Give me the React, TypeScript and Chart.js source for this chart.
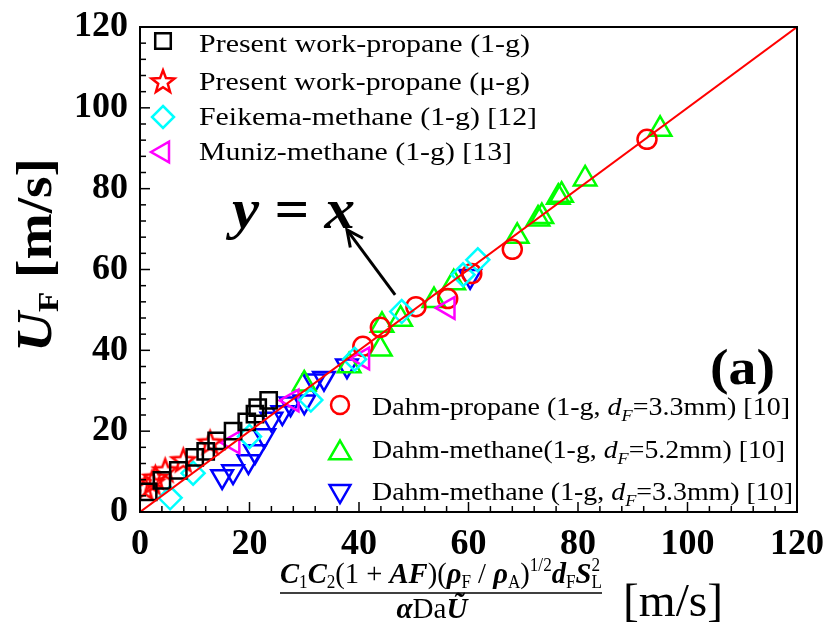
import React, { useEffect, useRef } from 'react';
import { Chart, registerables } from 'chart.js';

Chart.register(...registerables);

// ---------------- data ----------------
const presentX = [1.5, 4, 7, 10, 12, 14, 17, 19.5, 21, 21.5, 23.5];
const presentY = [5, 7.8, 10.3, 13.5, 15, 17.6, 20, 22.3, 24.2, 25.8, 27.6];

const microX = [0.9, 2.2, 2.8, 4.6, 7.9, 12.8];
const microY = [6, 7.4, 8.6, 10.4, 12.9, 17.3];

const feikemaX = [5.5, 9.7, 20, 31.2, 39.2, 47.8, 59, 61.7];
const feikemaY = [3.5, 9.6, 18.7, 27.7, 37.8, 49.6, 58.7, 62.4];

const munizX = [17, 27.8, 40.7, 56.3];
const munizY = [17.2, 27.6, 38, 50.5];

const dahmPropX = [40.7, 43.9, 50.4, 56.2, 60.6, 68, 92.6];
const dahmPropY = [41, 45.7, 50.8, 52.8, 59, 65, 92.2];

const dahmMeth52X = [30, 38.2, 43.9, 44.2, 47.6, 53.7, 57.3, 68.9, 72.7, 73.4, 76.4, 77, 81.3, 95];
const dahmMeth52Y = [31.7, 36.2, 40.3, 46.2, 47.7, 52.3, 56.7, 68.2, 72.5, 73.1, 77.9, 78.4, 82.4, 94.7];

const dahmMeth33X = [15, 17, 19.8, 21, 22.7, 24, 26, 27.5, 30, 31.8, 33.6, 37.8, 60.3];
const dahmMeth33Y = [8.8, 10, 12.5, 15, 18.9, 23, 24.6, 26.8, 27.3, 32.5, 33.1, 36.2, 58.3];

const refLineX = [0, 120];
const refLineY = [0, 120];

const xTickStep = 20;
const yTickStep = 20;
const axisMin = 0;
const axisMax = 120;

const arrowTail = { x: 46.6, y: 53.7 };
const arrowTip = { x: 37.8, y: 69.8 };

const legendTopLabels = [
  'Present work-propane (1-g)',
  'Present work-propane (\u03bc-g)',
  'Feikema-methane (1-g) [12]',
  'Muniz-methane (1-g) [13]',
];
const legendBottomLabels: [string, string][] = [
  ['Dahm-propane (1-g, ', '=3.3mm) [10]'],
  ['Dahm-methane(1-g, ', '=5.2mm) [10]'],
  ['Dahm-methane (1-g, ', '=3.3mm) [10]'],
];

// ---------------- helpers ----------------
const SERIF = "'Liberation Serif','Times New Roman',serif";
const f = (style: string, size: number) => `${style} ${size}px ${SERIF}`.trim();
const LW = 2.5;

const zip = (xs: number[], ys: number[]) => xs.map((x, i) => ({ x, y: ys[i] }));

function makeStar(color: string, r: number, lw: number) {
  const size = Math.ceil(2 * r + lw * 2 + 4);
  const c = document.createElement('canvas');
  c.width = size;
  c.height = size;
  const ctx = c.getContext('2d')!;
  drawStar(ctx, size / 2, size / 2, r, color, lw);
  return c;
}

function drawStar(ctx: CanvasRenderingContext2D, cx: number, cy: number, r: number, color: string, lw: number) {
  ctx.save();
  ctx.beginPath();
  const yOff = r * 0.1;
  for (let i = 0; i < 10; i++) {
    const a = -Math.PI / 2 + (i * Math.PI) / 5;
    const rr = i % 2 === 0 ? r : r * 0.42;
    ctx.lineTo(cx + rr * Math.cos(a), cy + yOff + rr * Math.sin(a));
  }
  ctx.closePath();
  ctx.strokeStyle = color;
  ctx.lineWidth = lw;
  ctx.lineJoin = 'miter';
  ctx.stroke();
  ctx.restore();
}

type Seg = { t: string; font: string; dy?: number; noAdv?: boolean };

function richWidth(ctx: CanvasRenderingContext2D, segs: Seg[]) {
  let w = 0;
  for (const s of segs) {
    ctx.font = s.font;
    if (!s.noAdv) w += ctx.measureText(s.t).width;
  }
  return w;
}

function drawRich(ctx: CanvasRenderingContext2D, segs: Seg[], x: number, y: number, targetW: number | null, align: 'left' | 'center' = 'left', color = '#000') {
  const nat = richWidth(ctx, segs);
  const sx = targetW ? targetW / nat : 1;
  const total = nat * sx;
  ctx.save();
  ctx.translate(align === 'center' ? x - total / 2 : x, y);
  ctx.scale(sx, 1);
  ctx.fillStyle = color;
  ctx.textAlign = 'left';
  ctx.textBaseline = 'alphabetic';
  let cx = 0;
  for (const s of segs) {
    ctx.font = s.font;
    ctx.fillText(s.t, cx, s.dy || 0);
    if (!s.noAdv) cx += ctx.measureText(s.t).width;
  }
  ctx.restore();
}

function drawMarker(ctx: CanvasRenderingContext2D, style: string, x: number, y: number, r: number, color: string) {
  if (style === 'star') {
    drawStar(ctx, x, y, r, color, LW);
    return;
  }
  ctx.save();
  ctx.strokeStyle = color;
  ctx.lineWidth = LW;
  ctx.beginPath();
  if (style === 'rect') {
    const s = Math.SQRT1_2 * r;
    ctx.rect(x - s, y - s, 2 * s, 2 * s);
  } else if (style === 'rectRot') {
    ctx.moveTo(x, y - r);
    ctx.lineTo(x + r, y);
    ctx.lineTo(x, y + r);
    ctx.lineTo(x - r, y);
    ctx.closePath();
  } else if (style === 'circle') {
    ctx.arc(x, y, r, 0, Math.PI * 2);
  } else {
    const rot = style === 'triL' ? -Math.PI / 2 : style === 'triD' ? Math.PI : 0;
    for (let i = 0; i < 3; i++) {
      const a = rot + (i * 2 * Math.PI) / 3;
      ctx.lineTo(x + Math.sin(a) * r, y - Math.cos(a) * r);
    }
    ctx.closePath();
  }
  ctx.stroke();
  ctx.restore();
}

const decorPlugin = {
  id: 'decor',
  afterDatasetsDraw(chart: any) {
    const ctx: CanvasRenderingContext2D = chart.ctx;
    const { left, right, top, bottom } = chart.chartArea;
    const xs = chart.scales.x;
    const ys = chart.scales.y;

    // frame
    ctx.save();
    ctx.strokeStyle = '#000';
    ctx.lineWidth = 2;
    ctx.strokeRect(left, top, right - left, bottom - top);

    // inward ticks (bottom & left)
    ctx.lineWidth = 1.5;
    for (let v = axisMin; v <= axisMax + 1e-9; v += 4) {
      const major = Math.abs(v % 20) < 1e-9;
      const len = major ? 10 : 6;
      const px = xs.getPixelForValue(v);
      ctx.beginPath();
      ctx.moveTo(px, bottom);
      ctx.lineTo(px, bottom - len);
      ctx.stroke();
      const py = ys.getPixelForValue(v);
      ctx.beginPath();
      ctx.moveTo(left, py);
      ctx.lineTo(left + len, py);
      ctx.stroke();
    }
    ctx.restore();

    // arrow
    const tx = xs.getPixelForValue(arrowTip.x);
    const ty = ys.getPixelForValue(arrowTip.y);
    const sx0 = xs.getPixelForValue(arrowTail.x);
    const sy0 = ys.getPixelForValue(arrowTail.y);
    ctx.save();
    ctx.strokeStyle = '#000';
    ctx.lineWidth = 3;
    ctx.beginPath();
    ctx.moveTo(sx0, sy0);
    ctx.lineTo(tx, ty);
    ctx.stroke();
    const ang = Math.atan2(ty - sy0, tx - sx0);
    const hl = 18;
    ctx.beginPath();
    ctx.moveTo(tx + hl * Math.cos(ang + Math.PI - 0.45), ty + hl * Math.sin(ang + Math.PI - 0.45));
    ctx.lineTo(tx, ty);
    ctx.lineTo(tx + hl * Math.cos(ang + Math.PI + 0.45), ty + hl * Math.sin(ang + Math.PI + 0.45));
    ctx.stroke();
    ctx.restore();

    // y = x label
    drawRich(ctx, [
      { t: 'y', font: f('italic bold', 56) },
      { t: ' = ', font: f('bold', 56) },
      { t: 'x', font: f('italic bold', 56) },
    ], 232, 228, 123);

    // (a)
    drawRich(ctx, [{ t: '(a)', font: f('bold', 50) }], 710, 384, 65);

    // top-left legend
    const topStyles = [
      { s: 'rect', c: '#000000', r: 11 },
      { s: 'star', c: '#ff0000', r: 12 },
      { s: 'rectRot', c: '#00ffff', r: 11 },
      { s: 'triL', c: '#ff00ff', r: 12 },
    ];
    const topSymY = [41, 81, 117, 152];
    const topBase = [52, 90, 125, 160];
    const topW = [331, 331, 338, 313];
    topStyles.forEach((st, i) => {
      drawMarker(ctx, st.s, 163, topSymY[i], st.r, st.c);
      drawRich(ctx, [{ t: legendTopLabels[i], font: f('', 26) }], 199, topBase[i], topW[i]);
    });

    // bottom-right legend
    const botStyles = [
      { s: 'circle', c: '#ff0000', r: 9 },
      { s: 'tri', c: '#00ff00', r: 12.5 },
      { s: 'triD', c: '#0000ff', r: 12 },
    ];
    const botSymY = [405, 453, 491];
    const botBase = [415, 458, 500];
    const botW = [418, 413, 421];
    botStyles.forEach((st, i) => {
      drawMarker(ctx, st.s, 340, botSymY[i], st.r, st.c);
      const lab = legendBottomLabels[i];
      drawRich(ctx, [
        { t: lab[0], font: f('', 26) },
        { t: 'd', font: f('italic', 26) },
        { t: 'F', font: f('italic', 17), dy: 6 },
        { t: lab[1], font: f('', 26) },
      ], 372, botBase[i], botW[i]);
    });

    // x-axis title (fraction)
    const B = 30, S = 18;
    drawRich(ctx, [
      { t: 'C', font: f('italic bold', B) },
      { t: '1', font: f('', S), dy: 5 },
      { t: 'C', font: f('italic bold', B) },
      { t: '2', font: f('', S), dy: 5 },
      { t: '(1 + ', font: f('', B) },
      { t: 'AF', font: f('italic bold', B) },
      { t: ')(', font: f('', B) },
      { t: '\u03c1', font: f('italic bold', B) },
      { t: 'F', font: f('', S), dy: 5 },
      { t: ' / ', font: f('', B) },
      { t: '\u03c1', font: f('italic bold', B) },
      { t: 'A', font: f('', S), dy: 5 },
      { t: ')', font: f('', B) },
      { t: '1/2', font: f('', S), dy: -12 },
      { t: 'd', font: f('italic bold', B) },
      { t: 'F', font: f('', S), dy: 5 },
      { t: 'S', font: f('italic bold', B) },
      { t: 'L', font: f('', S), dy: 5, noAdv: true },
      { t: '2', font: f('', S), dy: -12 },
    ], 280, 583, 320);
    ctx.save();
    ctx.strokeStyle = '#000';
    ctx.lineWidth = 1.5;
    ctx.beginPath();
    ctx.moveTo(280, 593);
    ctx.lineTo(602, 593);
    ctx.stroke();
    ctx.restore();
    drawRich(ctx, [
      { t: '\u03b1', font: f('italic bold', B) },
      { t: 'Da', font: f('', B) },
      { t: '\u0168', font: f('italic bold', B) },
    ], 432, 618, 71, 'center');
    drawRich(ctx, [{ t: '[m/s]', font: f('', 46) }], 623, 616, 100);

    // y-axis title (rotated)
    ctx.save();
    ctx.translate(51, 255);
    ctx.rotate(-Math.PI / 2);
    drawRich(ctx, [
      { t: 'U', font: f('italic bold', 50) },
      { t: 'F', font: f('bold', 30), dy: 7 },
      { t: ' [m/s]', font: f('bold', 50) },
    ], 0, 0, 194, 'center');
    ctx.restore();
  },
};

export default function App() {
  const ref = useRef<HTMLCanvasElement | null>(null);

  useEffect(() => {
    const canvas = ref.current!;
    const star = makeStar('#ff0000', 12, LW);
    const base = { showLine: false, backgroundColor: 'rgba(0,0,0,0)', borderWidth: LW, order: 1 };
    const chart = new Chart(canvas, {
      type: 'scatter',
      data: {
        datasets: [
          {
            label: 'y = x',
            data: zip(refLineX, refLineY),
            showLine: true,
            borderColor: '#ff0000',
            borderWidth: 2,
            pointRadius: 0,
            order: 0,
          },
          { ...base, label: 'Present work-propane (1-g)', data: zip(presentX, presentY), pointStyle: 'rect', pointRadius: 11.5, borderColor: '#000000' },
          { ...base, label: 'Present work-propane (\u03bc-g)', data: zip(microX, microY), pointStyle: star as any, pointRadius: 12, borderColor: '#ff0000' },
          { ...base, label: 'Feikema-methane (1-g) [12]', data: zip(feikemaX, feikemaY), pointStyle: 'rectRot', pointRadius: 11.5, borderColor: '#00ffff' },
          { ...base, label: 'Muniz-methane (1-g) [13]', data: zip(munizX, munizY), pointStyle: 'triangle', rotation: 270, pointRadius: 12.5, borderColor: '#ff00ff' },
          { ...base, label: 'Dahm-propane', data: zip(dahmPropX, dahmPropY), pointStyle: 'circle', pointRadius: 9.5, borderColor: '#ff0000' },
          { ...base, label: 'Dahm-methane 5.2mm', data: zip(dahmMeth52X, dahmMeth52Y), pointStyle: 'triangle', pointRadius: 13, borderColor: '#00ff00' },
          { ...base, label: 'Dahm-methane 3.3mm', data: zip(dahmMeth33X, dahmMeth33Y), pointStyle: 'triangle', rotation: 180, pointRadius: 12.5, borderColor: '#0000ff' },
        ] as any,
      },
      options: {
        responsive: false,
        animation: false,
        devicePixelRatio: 1,
        layout: { padding: { top: 27, right: 33, left: 0, bottom: 0 } },
        plugins: { legend: { display: false }, tooltip: { enabled: false } },
        scales: {
          x: {
            type: 'linear',
            min: axisMin,
            max: axisMax,
            ticks: { stepSize: xTickStep, color: '#000', padding: 11, font: { family: SERIF, size: 36, weight: 'bold' } },
            grid: { display: false, drawTicks: false },
            border: { display: false },
            afterFit: (s: any) => { s.height = 111; s.paddingLeft = 0; s.paddingRight = 0; },
          },
          y: {
            type: 'linear',
            min: axisMin,
            max: axisMax,
            ticks: { stepSize: yTickStep, color: '#000', padding: 12, font: { family: SERIF, size: 36, weight: 'bold' } },
            grid: { display: false, drawTicks: false },
            border: { display: false },
            afterFit: (s: any) => { s.width = 140; s.paddingTop = 0; s.paddingBottom = 0; },
          },
        },
      } as any,
      plugins: [decorPlugin],
    });
    return () => chart.destroy();
  }, []);

  return (
    <div style={{ position: 'fixed', left: 0, top: 0, width: 830, height: 623, background: '#fff' }}>
      <canvas ref={ref} width={830} height={623} style={{ display: 'block', width: 830, height: 623 }} />
    </div>
  );
}
